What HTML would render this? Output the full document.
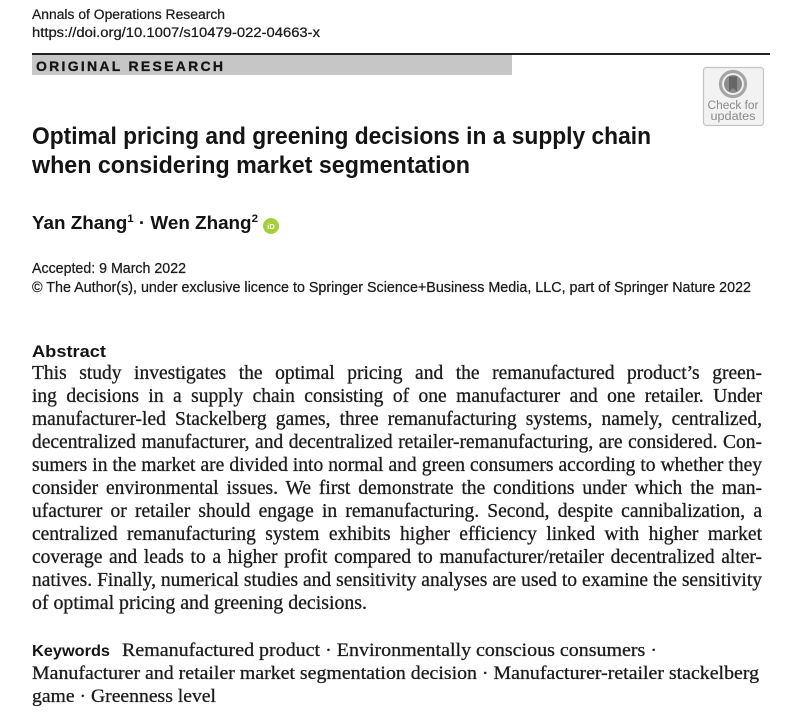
<!DOCTYPE html>
<html>
<head>
<meta charset="utf-8">
<style>
  html,body{margin:0;padding:0;background:#fff;}
  body{width:804px;height:728px;overflow:hidden;}
  svg{display:block;}
  .sans{font-family:"Liberation Sans",Arial,sans-serif;}
  .serif{font-family:"Liberation Serif","Times New Roman",serif;}
</style>
</head>
<body>
<svg width="804" height="728" viewBox="0 0 804 728" xmlns="http://www.w3.org/2000/svg">
  <rect x="0" y="0" width="804" height="728" fill="#fff"/>

  <!-- Header -->
  <text class="sans" x="32" y="19" font-size="13.5" fill="#1e1b1b" stroke="#1e1b1b" stroke-width="0.25" textLength="193" lengthAdjust="spacingAndGlyphs">Annals of Operations Research</text>
  <text class="sans" x="32" y="37" font-size="13.5" fill="#1e1b1b" stroke="#1e1b1b" stroke-width="0.25" textLength="288" lengthAdjust="spacingAndGlyphs">https://doi.org/10.1007/s10479-022-04663-x</text>

  <!-- Rule and gray bar -->
  <rect x="32" y="53" width="738" height="2" fill="#222"/>
  <rect x="32" y="55" width="480" height="20" fill="#c6c6c6"/>
  <text class="sans" x="36" y="71" font-size="14" font-weight="bold" fill="#151515" stroke="#151515" stroke-width="0.3" textLength="187" lengthAdjust="spacing">ORIGINAL RESEARCH</text>

  <!-- Check for updates badge -->
  <rect x="703.5" y="67.5" width="60" height="58" rx="3" fill="#f2f2f2" stroke="#c4c4c4" stroke-width="1.2"/>
  <circle cx="733" cy="84" r="12.5" fill="none" stroke="#a5a5a5" stroke-width="3.2"/>
  <circle cx="733" cy="84" r="9" fill="#8c8c8c"/>
  <path d="M729 76.5 L737 76.5 L737 91.5 L733 88 L729 91.5 Z" fill="#666"/>
  <text class="sans" x="733" y="109" font-size="11.5" fill="#8a8a8a" text-anchor="middle" textLength="51" lengthAdjust="spacingAndGlyphs">Check for</text>
  <text class="sans" x="733" y="120" font-size="11.5" fill="#8a8a8a" text-anchor="middle" textLength="45" lengthAdjust="spacingAndGlyphs">updates</text>

  <!-- Title -->
  <text class="sans" x="32" y="144" font-size="24.5" font-weight="bold" fill="#141414" textLength="619" lengthAdjust="spacingAndGlyphs">Optimal pricing and greening decisions in a supply chain</text>
  <text class="sans" x="32" y="173" font-size="24.5" font-weight="bold" fill="#141414" textLength="438" lengthAdjust="spacingAndGlyphs">when considering market segmentation</text>

  <!-- Authors -->
  <text class="sans" x="32" y="229" font-size="18" font-weight="bold" fill="#141414" textLength="226" lengthAdjust="spacingAndGlyphs">Yan Zhang<tspan dy="-7" font-size="11">1</tspan><tspan dy="7"> · Wen Zhang</tspan><tspan dy="-7" font-size="11">2</tspan></text>
  <circle cx="271" cy="226" r="8" fill="#a6ce39"/>
  <text class="sans" x="271" y="229" font-size="7.5" font-weight="bold" fill="#fff" text-anchor="middle">iD</text>

  <!-- Accepted / copyright -->
  <text class="sans" x="32" y="273" font-size="14.5" fill="#1e1b1b" stroke="#1e1b1b" stroke-width="0.25" textLength="154" lengthAdjust="spacingAndGlyphs">Accepted: 9 March 2022</text>
  <text class="sans" x="32" y="292" font-size="14.5" fill="#1e1b1b" stroke="#1e1b1b" stroke-width="0.25" textLength="719" lengthAdjust="spacingAndGlyphs">© The Author(s), under exclusive licence to Springer Science+Business Media, LLC, part of Springer Nature 2022</text>

  <!-- Abstract -->
  <text class="sans" x="32" y="357" font-size="17" font-weight="bold" fill="#141414" textLength="74" lengthAdjust="spacingAndGlyphs">Abstract</text>

  <g class="serif" font-size="19.5" fill="#1e1b1b" stroke="#1e1b1b" stroke-width="0.3">
    <text class="j" x="32" y="379" textLength="730" lengthAdjust="spacingAndGlyphs">This study investigates the optimal pricing and the remanufactured product’s green-</text>
    <text class="j" x="32" y="402" textLength="730" lengthAdjust="spacingAndGlyphs">ing decisions in a supply chain consisting of one manufacturer and one retailer. Under</text>
    <text class="j" x="32" y="425" textLength="730" lengthAdjust="spacingAndGlyphs">manufacturer-led Stackelberg games, three remanufacturing systems, namely, centralized,</text>
    <text class="j" x="32" y="448" textLength="730" lengthAdjust="spacingAndGlyphs">decentralized manufacturer, and decentralized retailer-remanufacturing, are considered. Con-</text>
    <text class="j" x="32" y="471" textLength="730" lengthAdjust="spacingAndGlyphs">sumers in the market are divided into normal and green consumers according to whether they</text>
    <text class="j" x="32" y="494" textLength="730" lengthAdjust="spacingAndGlyphs">consider environmental issues. We first demonstrate the conditions under which the man-</text>
    <text class="j" x="32" y="517" textLength="730" lengthAdjust="spacingAndGlyphs">ufacturer or retailer should engage in remanufacturing. Second, despite cannibalization, a</text>
    <text class="j" x="32" y="540" textLength="730" lengthAdjust="spacingAndGlyphs">centralized remanufacturing system exhibits higher efficiency linked with higher market</text>
    <text class="j" x="32" y="563" textLength="730" lengthAdjust="spacingAndGlyphs">coverage and leads to a higher profit compared to manufacturer/retailer decentralized alter-</text>
    <text class="j" x="32" y="586" textLength="730" lengthAdjust="spacingAndGlyphs">natives. Finally, numerical studies and sensitivity analyses are used to examine the sensitivity</text>
    <text x="32" y="609" textLength="335" lengthAdjust="spacingAndGlyphs">of optimal pricing and greening decisions.</text>
  </g>

  <!-- Keywords -->
  <text class="sans" x="32" y="656" font-size="16" font-weight="bold" fill="#141414" textLength="78" lengthAdjust="spacingAndGlyphs">Keywords</text>
  <g class="serif" font-size="19" fill="#1e1b1b" stroke="#1e1b1b" stroke-width="0.3">
    <text x="122" y="656" textLength="535" lengthAdjust="spacingAndGlyphs">Remanufactured product · Environmentally conscious consumers ·</text>
    <text x="32" y="679" textLength="727" lengthAdjust="spacingAndGlyphs">Manufacturer and retailer market segmentation decision · Manufacturer-retailer stackelberg</text>
    <text x="32" y="702" textLength="184" lengthAdjust="spacingAndGlyphs">game · Greenness level</text>
  </g>
</svg>
<script>
(function(){
  try{
    var els=document.querySelectorAll('text.j');
    for(var i=0;i<els.length;i++){
      var t=els[i];
      var target=parseFloat(t.getAttribute('textLength'));
      t.removeAttribute('textLength');
      t.removeAttribute('lengthAdjust');
      var L=t.getComputedTextLength();
      var s=t.textContent;
      var n=(s.match(/ /g)||[]).length;
      if(L<target && n>0){
        t.style.wordSpacing=((target-L)/n)+'px';
      } else {
        t.setAttribute('textLength',target);
        t.setAttribute('lengthAdjust','spacingAndGlyphs');
      }
    }
  }catch(e){}
})();
</script>
</body>
</html>
